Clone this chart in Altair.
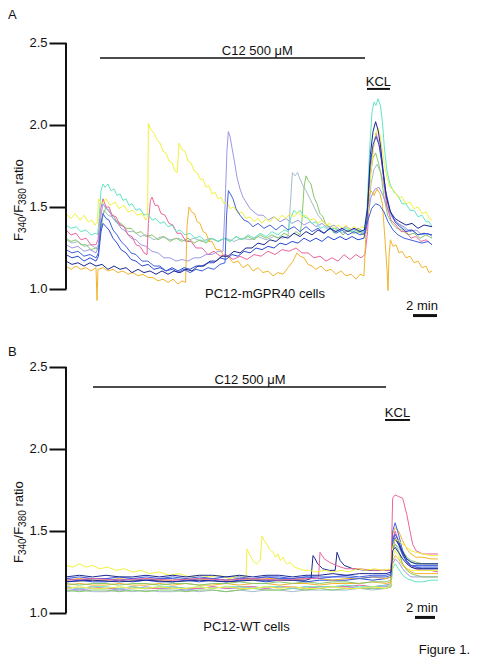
import altair as alt
import pandas as pd

FONT = "Liberation Sans"
INK = "#111111"

# ---------------- Panel A : PC12-mGPR40 cells (time in s, F340/F380 ratio) ----------------
A_YELLOW = [(0,1.46),(25,1.43),(45,1.46),(70,1.42),(90,1.45),(110,1.41),(130,1.42),(145,1.39),(158,1.41),(162,1.55),(180,1.52),(200,1.55),(220,1.51),(245,1.53),(265,1.49),(290,1.51),(310,1.47),(335,1.48),(355,1.45),(380,1.46),(400,1.42),(408,1.44),(412,2.01),(425,1.97),(440,1.95),(455,1.91),(470,1.89),(485,1.84),(500,1.83),(515,1.78),(530,1.77),(545,1.72),(556,1.71),(565,1.89),(580,1.85),(595,1.84),(610,1.78),(625,1.77),(640,1.72),(655,1.71),(670,1.67),(685,1.67),(700,1.62),(715,1.63),(730,1.58),(745,1.59),(760,1.55),(775,1.56),(790,1.52),(805,1.53),(820,1.49),(840,1.50),(860,1.46),(880,1.47),(900,1.43),(920,1.44),(940,1.41),(960,1.43),(980,1.40),(1000,1.43),(1020,1.41),(1040,1.44),(1060,1.42),(1080,1.45),(1100,1.43),(1120,1.46),(1140,1.44),(1160,1.47),(1180,1.44),(1200,1.45),(1220,1.42),(1240,1.43),(1260,1.40),(1280,1.42),(1300,1.39),(1320,1.40),(1340,1.37),(1360,1.39),(1380,1.37),(1400,1.39),(1420,1.36),(1440,1.38),(1460,1.36),(1480,1.38),(1495,1.37),(1510,1.46),(1525,1.72),(1540,1.88),(1550,1.95),(1560,1.98),(1570,1.94),(1580,1.86),(1592,1.76),(1605,1.68),(1620,1.62),(1640,1.60),(1660,1.56),(1680,1.56),(1700,1.52),(1720,1.53),(1740,1.49),(1760,1.50),(1780,1.46),(1800,1.47),(1815,1.43),(1830,1.42)]
A_TURQ = [(0,1.39),(25,1.37),(50,1.38),(75,1.35),(100,1.36),(125,1.33),(150,1.34),(158,1.33),(165,1.42),(175,1.60),(185,1.64),(195,1.62),(210,1.64),(225,1.60),(240,1.61),(255,1.57),(270,1.58),(285,1.54),(300,1.55),(315,1.51),(330,1.52),(350,1.48),(370,1.49),(390,1.45),(410,1.46),(430,1.42),(450,1.43),(470,1.40),(490,1.41),(510,1.38),(530,1.39),(550,1.35),(570,1.36),(595,1.33),(620,1.34),(645,1.31),(670,1.32),(700,1.29),(730,1.31),(760,1.29),(790,1.31),(820,1.29),(850,1.32),(880,1.30),(910,1.33),(940,1.31),(970,1.34),(1000,1.32),(1030,1.35),(1060,1.33),(1090,1.36),(1110,1.35),(1125,1.44),(1140,1.48),(1155,1.46),(1170,1.48),(1190,1.44),(1210,1.43),(1230,1.40),(1250,1.41),(1270,1.37),(1290,1.38),(1310,1.36),(1340,1.37),(1370,1.35),(1400,1.37),(1430,1.35),(1460,1.36),(1490,1.35),(1505,1.48),(1518,1.85),(1530,2.08),(1540,2.14),(1550,2.12),(1560,2.16),(1572,2.12),(1582,2.02),(1592,1.86),(1605,1.72),(1620,1.64),(1640,1.59),(1660,1.57),(1680,1.52),(1700,1.52),(1720,1.48),(1740,1.48),(1760,1.44),(1780,1.45),(1800,1.41),(1815,1.41),(1830,1.38)]
A_PINK = [(0,1.36),(25,1.33),(50,1.34),(75,1.30),(100,1.31),(125,1.27),(150,1.27),(160,1.30),(172,1.48),(185,1.55),(200,1.50),(215,1.50),(230,1.45),(250,1.44),(270,1.39),(290,1.38),(310,1.33),(330,1.32),(350,1.27),(370,1.26),(390,1.22),(405,1.21),(412,1.40),(422,1.54),(430,1.56),(445,1.51),(460,1.51),(475,1.46),(495,1.45),(515,1.40),(535,1.39),(555,1.34),(575,1.34),(600,1.29),(625,1.29),(650,1.25),(680,1.25),(710,1.21),(740,1.23),(770,1.20),(800,1.21),(835,1.18),(870,1.20),(905,1.18),(940,1.21),(975,1.20),(1010,1.23),(1045,1.21),(1080,1.24),(1115,1.23),(1150,1.25),(1180,1.22),(1210,1.22),(1240,1.19),(1270,1.20),(1300,1.17),(1330,1.19),(1360,1.17),(1390,1.21),(1420,1.18),(1450,1.21),(1475,1.19),(1495,1.21),(1508,1.35),(1522,1.70),(1535,1.85),(1550,1.95),(1562,1.90),(1575,1.82),(1590,1.64),(1605,1.50),(1625,1.42),(1650,1.39),(1675,1.35),(1700,1.35),(1725,1.31),(1750,1.32),(1775,1.29),(1800,1.30),(1830,1.27)]
A_GREEN = [(0,1.31),(25,1.29),(50,1.30),(75,1.27),(100,1.27),(125,1.24),(150,1.25),(160,1.24),(170,1.32),(185,1.45),(200,1.50),(215,1.47),(235,1.45),(255,1.41),(275,1.40),(300,1.37),(325,1.37),(350,1.34),(375,1.35),(400,1.32),(430,1.33),(460,1.30),(490,1.32),(520,1.29),(550,1.31),(580,1.29),(610,1.31),(640,1.28),(670,1.30),(700,1.28),(730,1.31),(760,1.29),(790,1.31),(820,1.29),(850,1.32),(880,1.30),(910,1.32),(940,1.30),(970,1.33),(1000,1.31),(1030,1.33),(1060,1.31),(1090,1.34),(1120,1.32),(1150,1.35),(1170,1.33),(1180,1.42),(1190,1.62),(1200,1.69),(1212,1.66),(1225,1.64),(1240,1.56),(1255,1.52),(1270,1.46),(1285,1.44),(1300,1.39),(1320,1.38),(1340,1.34),(1360,1.36),(1385,1.33),(1410,1.36),(1435,1.34),(1460,1.35),(1490,1.33),(1505,1.42),(1520,1.68),(1535,1.80),(1548,1.83),(1560,1.78),(1575,1.70),(1590,1.56),(1608,1.45),(1630,1.40),(1655,1.37),(1680,1.36),(1710,1.33),(1740,1.34),(1770,1.31),(1800,1.33),(1830,1.31)]
A_STEEL = [(0,1.30),(30,1.28),(60,1.29),(90,1.26),(120,1.27),(150,1.25),(162,1.27),(175,1.40),(190,1.48),(210,1.45),(230,1.44),(255,1.40),(280,1.39),(310,1.35),(340,1.35),(370,1.32),(400,1.33),(440,1.30),(480,1.32),(520,1.30),(560,1.31),(600,1.29),(640,1.31),(680,1.29),(720,1.31),(760,1.29),(800,1.31),(840,1.29),(880,1.31),(920,1.30),(960,1.32),(1000,1.30),(1040,1.32),(1080,1.31),(1110,1.32),(1122,1.52),(1132,1.71),(1145,1.69),(1158,1.71),(1170,1.67),(1185,1.63),(1200,1.60),(1220,1.55),(1240,1.50),(1260,1.45),(1280,1.42),(1300,1.39),(1325,1.37),(1350,1.37),(1380,1.34),(1410,1.36),(1440,1.34),(1470,1.35),(1495,1.34),(1510,1.44),(1525,1.64),(1540,1.73),(1555,1.76),(1570,1.72),(1585,1.66),(1600,1.56),(1620,1.46),(1645,1.41),(1670,1.39),(1700,1.36),(1730,1.36),(1760,1.33),(1790,1.34),(1830,1.33)]
A_LAV = [(0,1.27),(30,1.25),(60,1.26),(90,1.23),(120,1.24),(150,1.22),(162,1.26),(175,1.45),(185,1.52),(200,1.49),(215,1.48),(235,1.43),(255,1.41),(275,1.37),(300,1.35),(325,1.31),(350,1.30),(375,1.27),(400,1.26),(430,1.23),(460,1.22),(490,1.19),(520,1.19),(550,1.17),(580,1.18),(610,1.17),(640,1.19),(670,1.19),(700,1.21),(730,1.21),(760,1.23),(785,1.23),(795,1.50),(805,1.85),(812,1.96),(820,1.93),(830,1.86),(842,1.78),(855,1.68),(870,1.61),(885,1.56),(900,1.53),(920,1.49),(940,1.47),(960,1.45),(985,1.45),(1010,1.42),(1040,1.44),(1070,1.41),(1100,1.43),(1130,1.40),(1160,1.42),(1190,1.39),(1220,1.41),(1250,1.38),(1280,1.40),(1310,1.37),(1340,1.39),(1370,1.36),(1400,1.38),(1430,1.36),(1460,1.37),(1492,1.35),(1508,1.44),(1525,1.56),(1545,1.61),(1565,1.62),(1585,1.57),(1605,1.50),(1630,1.44),(1660,1.40),(1690,1.38),(1720,1.35),(1750,1.36),(1780,1.33),(1810,1.34),(1830,1.32)]
A_BLUE = [(0,1.24),(30,1.22),(60,1.23),(90,1.20),(120,1.21),(150,1.19),(162,1.22),(175,1.40),(185,1.46),(200,1.43),(215,1.42),(235,1.36),(255,1.33),(275,1.29),(300,1.26),(325,1.22),(350,1.21),(380,1.17),(410,1.17),(440,1.14),(470,1.14),(500,1.11),(530,1.12),(560,1.10),(590,1.12),(620,1.10),(650,1.12),(680,1.11),(710,1.13),(740,1.12),(770,1.15),(795,1.16),(803,1.45),(812,1.60),(822,1.58),(835,1.55),(850,1.49),(870,1.45),(890,1.42),(910,1.41),(935,1.38),(960,1.40),(990,1.37),(1020,1.39),(1050,1.36),(1080,1.39),(1110,1.36),(1140,1.38),(1170,1.35),(1200,1.38),(1230,1.35),(1260,1.37),(1290,1.34),(1320,1.37),(1350,1.34),(1380,1.36),(1410,1.33),(1440,1.35),(1470,1.33),(1495,1.34),(1510,1.42),(1528,1.49),(1548,1.52),(1568,1.51),(1590,1.47),(1610,1.41),(1635,1.36),(1660,1.33),(1690,1.31),(1720,1.30),(1750,1.29),(1780,1.28),(1810,1.29),(1830,1.27)]
A_ROYAL = [(0,1.21),(30,1.19),(60,1.20),(90,1.17),(120,1.19),(150,1.17),(162,1.20),(175,1.35),(185,1.40),(200,1.38),(215,1.36),(235,1.31),(255,1.28),(275,1.24),(300,1.22),(325,1.18),(350,1.17),(380,1.14),(410,1.15),(440,1.12),(470,1.13),(500,1.11),(530,1.13),(560,1.11),(590,1.13),(620,1.12),(650,1.14),(680,1.14),(710,1.16),(740,1.16),(770,1.19),(800,1.18),(830,1.21),(860,1.20),(890,1.23),(920,1.22),(950,1.25),(980,1.24),(1010,1.26),(1040,1.25),(1070,1.28),(1100,1.27),(1130,1.29),(1160,1.28),(1190,1.31),(1220,1.29),(1250,1.31),(1280,1.29),(1310,1.32),(1340,1.30),(1370,1.32),(1400,1.30),(1430,1.32),(1460,1.30),(1490,1.31),(1505,1.42),(1520,1.75),(1535,1.88),(1550,1.93),(1565,1.88),(1580,1.76),(1598,1.60),(1620,1.48),(1645,1.41),(1670,1.38),(1700,1.35),(1730,1.36),(1760,1.33),(1790,1.34),(1830,1.33)]
A_NAVY = [(0,1.17),(30,1.15),(60,1.16),(90,1.14),(120,1.16),(150,1.14),(180,1.15),(210,1.12),(240,1.14),(270,1.12),(300,1.13),(330,1.10),(360,1.12),(390,1.10),(420,1.11),(450,1.09),(480,1.11),(510,1.09),(540,1.11),(570,1.10),(600,1.12),(630,1.11),(660,1.14),(690,1.14),(720,1.17),(750,1.17),(780,1.20),(810,1.20),(840,1.23),(870,1.22),(900,1.25),(930,1.25),(960,1.28),(990,1.27),(1020,1.30),(1050,1.29),(1080,1.32),(1110,1.31),(1140,1.34),(1170,1.32),(1200,1.35),(1230,1.33),(1260,1.36),(1290,1.34),(1320,1.37),(1350,1.35),(1380,1.37),(1410,1.35),(1440,1.37),(1470,1.35),(1492,1.36),(1508,1.50),(1522,1.82),(1535,1.96),(1548,2.02),(1560,1.97),(1572,1.88),(1586,1.72),(1602,1.56),(1622,1.47),(1645,1.43),(1670,1.41),(1700,1.39),(1730,1.40),(1760,1.37),(1790,1.39),(1830,1.38)]
A_ORANGE = [(0,1.14),(25,1.12),(50,1.14),(75,1.12),(100,1.13),(125,1.11),(150,1.13),(155,0.93),(160,1.12),(185,1.13),(210,1.11),(235,1.12),(260,1.10),(285,1.11),(310,1.09),(335,1.10),(360,1.08),(385,1.09),(410,1.07),(435,1.07),(460,1.05),(485,1.06),(510,1.04),(535,1.06),(560,1.03),(580,1.05),(598,1.04),(605,1.38),(615,1.50),(628,1.47),(642,1.46),(656,1.41),(670,1.40),(685,1.35),(700,1.34),(715,1.29),(730,1.29),(750,1.24),(770,1.24),(790,1.20),(810,1.20),(835,1.16),(860,1.17),(885,1.13),(910,1.15),(935,1.11),(960,1.13),(985,1.10),(1010,1.11),(1035,1.08),(1060,1.10),(1085,1.09),(1110,1.13),(1135,1.17),(1155,1.22),(1170,1.20),(1190,1.19),(1210,1.15),(1230,1.14),(1250,1.12),(1275,1.14),(1300,1.11),(1325,1.12),(1350,1.09),(1375,1.11),(1400,1.08),(1425,1.09),(1450,1.06),(1470,1.09),(1490,1.08),(1498,1.30),(1510,1.55),(1525,1.60),(1540,1.57),(1555,1.61),(1570,1.58),(1582,1.52),(1595,1.30),(1606,1.10),(1610,0.99),(1615,1.20),(1622,1.30),(1635,1.26),(1650,1.27),(1665,1.22),(1680,1.23),(1700,1.19),(1720,1.20),(1740,1.16),(1760,1.17),(1780,1.13),(1800,1.14),(1815,1.10),(1830,1.11)]

A_NAMES = ["steel", "green", "lavender", "pink", "turquoise", "yellow", "orange", "royal", "blue", "navy"]
A_COLORS = ["#a6bccb", "#88c86a", "#9c98e4", "#e8659e", "#62e6c6", "#f2f23c", "#f2b42c", "#2a4ad4", "#4062e0", "#1c2890"]
A_SERIES = [A_STEEL, A_GREEN, A_LAV, A_PINK, A_TURQ, A_YELLOW, A_ORANGE, A_ROYAL, A_BLUE, A_NAVY]

A_TEXTS = [("C12 500 μM", 957, 2.427), ("KCL", 1562, 2.238), ("PC12-mGPR40 cells", 995, 0.945), ("2 min", 1780, 0.872)]
A_HRULES = [(170, 1495, 2.409, 1.5), (1505, 1620, 2.220, 2.0), (1735, 1855, 0.838, 3.0)]

# ---------------- Panel B : PC12-WT cells ----------------
B_T = [0, 80, 160, 240, 320, 400, 480, 560, 640, 720, 800, 880, 960, 1040, 1120, 1200, 1280, 1360, 1440, 1520, 1600, 1680, 1760, 1840, 1920]
B_T_KCL = [1950, 1960, 1975, 1995, 2020, 2045, 2070, 2100, 2140, 2190, 2232]

B_GRID = {
    "ltpink":   ([1.13,1.14,1.13,1.13,1.14,1.13,1.14,1.13,1.13,1.14,1.13,1.14,1.13,1.14,1.13,1.14,1.14,1.13,1.14,1.14,1.14,1.14,1.15,1.14,1.15],
                 [1.16,1.38,1.42,1.40,1.36,1.33,1.31,1.30,1.30,1.30,1.30]),
    "ltcyan":   ([1.14,1.13,1.14,1.14,1.13,1.14,1.13,1.14,1.14,1.13,1.14,1.14,1.13,1.14,1.15,1.14,1.14,1.15,1.14,1.15,1.14,1.15,1.15,1.15,1.15],
                 [1.16,1.40,1.45,1.43,1.38,1.34,1.32,1.31,1.30,1.30,1.30]),
    "paleyel":  ([1.15,1.14,1.15,1.15,1.14,1.15,1.16,1.15,1.15,1.14,1.15,1.16,1.15,1.15,1.16,1.15,1.16,1.15,1.16,1.15,1.16,1.16,1.15,1.16,1.16],
                 [1.17,1.30,1.33,1.31,1.27,1.24,1.22,1.22,1.22,1.22,1.22]),
    "cyan":     ([1.16,1.15,1.16,1.15,1.15,1.16,1.15,1.15,1.16,1.15,1.15,1.16,1.15,1.16,1.16,1.15,1.16,1.16,1.15,1.16,1.16,1.16,1.17,1.16,1.17],
                 [1.18,1.45,1.50,1.44,1.36,1.31,1.28,1.27,1.26,1.26,1.25]),
    "ygreen":   ([1.16,1.15,1.16,1.16,1.15,1.16,1.15,1.16,1.16,1.15,1.16,1.15,1.16,1.16,1.15,1.16,1.16,1.15,1.16,1.16,1.16,1.17,1.16,1.16,1.17],
                 [1.17,1.27,1.30,1.27,1.23,1.21,1.20,1.19,1.19,1.20,1.20]),
    "dkred":    ([1.15,1.16,1.15,1.15,1.16,1.15,1.15,1.16,1.15,1.15,1.16,1.15,1.16,1.15,1.15,1.16,1.15,1.16,1.15,1.15,1.16,1.15,1.15,1.16,1.15],
                 [1.17,1.34,1.38,1.35,1.30,1.27,1.26,1.26,1.26,1.26,1.26]),
    "lav":      ([1.17,1.18,1.17,1.17,1.18,1.17,1.17,1.18,1.17,1.18,1.17,1.17,1.18,1.17,1.18,1.18,1.17,1.18,1.18,1.17,1.18,1.18,1.18,1.19,1.18],
                 [1.19,1.48,1.52,1.50,1.44,1.39,1.36,1.34,1.34,1.33,1.33]),
    "green":    ([1.18,1.17,1.18,1.18,1.17,1.18,1.18,1.17,1.18,1.18,1.17,1.18,1.18,1.19,1.18,1.18,1.19,1.18,1.19,1.18,1.19,1.19,1.18,1.19,1.19],
                 [1.20,1.38,1.42,1.38,1.30,1.26,1.24,1.23,1.22,1.22,1.22]),
    "teal":     ([1.19,1.20,1.19,1.19,1.20,1.19,1.20,1.19,1.19,1.20,1.19,1.20,1.19,1.20,1.20,1.19,1.20,1.20,1.19,1.20,1.20,1.20,1.21,1.20,1.21],
                 [1.22,1.44,1.48,1.44,1.36,1.31,1.29,1.28,1.28,1.28,1.28]),
    "orange":   ([1.20,1.21,1.20,1.20,1.21,1.20,1.21,1.20,1.20,1.21,1.20,1.21,1.20,1.21,1.20,1.21,1.21,1.20,1.21,1.21,1.20,1.21,1.21,1.22,1.21],
                 [1.22,1.32,1.35,1.33,1.29,1.27,1.25,1.24,1.24,1.24,1.24]),
    "blue":     ([1.21,1.20,1.21,1.21,1.20,1.21,1.20,1.21,1.21,1.20,1.21,1.21,1.20,1.21,1.21,1.22,1.21,1.21,1.22,1.21,1.22,1.22,1.21,1.22,1.22],
                 [1.23,1.50,1.55,1.48,1.38,1.32,1.29,1.28,1.27,1.27,1.27]),
    "seagreen": ([1.21,1.22,1.21,1.21,1.22,1.21,1.22,1.21,1.22,1.21,1.22,1.21,1.22,1.22,1.21,1.22,1.22,1.21,1.22,1.22,1.22,1.23,1.22,1.23,1.23],
                 [1.24,1.43,1.46,1.42,1.35,1.31,1.29,1.29,1.29,1.29,1.29]),
    "navy":     ([1.22,1.23,1.22,1.23,1.22,1.22,1.23,1.22,1.23,1.22,1.23,1.23,1.22,1.23,1.22,1.23,1.23,1.22,1.23,1.23,1.24,1.23,1.24,1.24,1.24],
                 [1.25,1.38,1.40,1.37,1.33,1.30,1.28,1.27,1.27,1.27,1.27]),
}
B_YELLOW = [(0,1.29),(40,1.28),(80,1.30),(120,1.28),(160,1.29),(200,1.27),(250,1.28),(300,1.26),(350,1.27),(400,1.25),(450,1.26),(500,1.24),(560,1.25),(620,1.23),(680,1.24),(740,1.22),(800,1.23),(860,1.22),(920,1.23),(980,1.21),(1040,1.23),(1080,1.22),(1086,1.39),(1100,1.36),(1115,1.33),(1128,1.31),(1145,1.30),(1165,1.32),(1176,1.47),(1190,1.44),(1205,1.42),(1220,1.39),(1242,1.37),(1258,1.34),(1272,1.36),(1286,1.32),(1302,1.34),(1316,1.31),(1330,1.30),(1344,1.31),(1370,1.28),(1400,1.27),(1430,1.26),(1460,1.26),(1500,1.25),(1550,1.26),(1600,1.25),(1650,1.26),(1700,1.25),(1750,1.27),(1800,1.26),(1850,1.27),(1900,1.26),(1950,1.27),(1960,1.40),(1975,1.45),(1995,1.44),(2020,1.42),(2045,1.40),(2070,1.38),(2100,1.37),(2140,1.36),(2190,1.35),(2232,1.35)]
B_PINK = [(0,1.20),(160,1.21),(320,1.20),(480,1.21),(640,1.20),(800,1.21),(960,1.20),(1120,1.21),(1280,1.20),(1440,1.21),(1515,1.21),(1524,1.37),(1550,1.33),(1580,1.31),(1620,1.29),(1680,1.27),(1760,1.27),(1840,1.26),(1920,1.26),(1950,1.26),(1960,1.70),(1975,1.72),(1995,1.71),(2020,1.70),(2045,1.60),(2064,1.50),(2080,1.42),(2100,1.38),(2140,1.36),(2190,1.36),(2232,1.36)]
B_GREY = [(0,1.19),(160,1.20),(320,1.19),(480,1.20),(640,1.19),(800,1.20),(960,1.19),(1120,1.20),(1280,1.20),(1440,1.20),(1470,1.21),(1482,1.35),(1495,1.33),(1510,1.30),(1540,1.27),(1580,1.26),(1615,1.26),(1626,1.37),(1645,1.32),(1670,1.29),(1720,1.27),(1800,1.26),(1900,1.26),(1950,1.26),(1960,1.40),(1975,1.45),(1995,1.42),(2020,1.37),(2045,1.33),(2070,1.31),(2100,1.30),(2140,1.30),(2190,1.30),(2232,1.30)]

B_NAMES = ["ltpink", "ltcyan", "paleyel", "cyan", "ygreen", "dkred", "lav", "green", "teal", "orange", "blue", "seagreen", "grey", "pink", "yellow", "navy"]
B_COLORS = ["#f2a6c6", "#9fe4f2", "#ecec8c", "#33b9e8", "#c4e04a", "#a33a2e", "#a496e4", "#6cbf4c", "#22a090", "#f0a22c", "#3658d8", "#62d0a0", "#8e8e8e", "#e870b8", "#f0e43c", "#1b2a7a"]

B_TEXTS = [("C12 500 μM", 1104, 2.396), ("KCL", 1989, 2.195), ("PC12-WT cells", 1083, 0.890), ("2 min", 2136, 1.006)]
B_HRULES = [(162, 1920, 2.378, 1.5), (1914, 2064, 2.177, 2.0), (2094, 2214, 0.973, 3.0)]
B_FIGURE = ("Figure 1.", 2424, 0.750)

Y_TICKS = [1.0, 1.5, 2.0, 2.5]

# y-axis title pieces: text, font size, x offset, y offset (layout, px within panel)
TITLE_PIECES = [("F", 13, -43, 233), ("340", 10, -40, 225.1), ("/F", 13, -43, 208.4), ("380", 10, -40, 196.9), ("ratio", 13, -43, 176.6)]

Y_AXIS = alt.Axis(values=Y_TICKS, format=".1f", tickSize=17, tickWidth=2, tickColor=INK,
                  labelFontSize=13, labelFont=FONT, labelColor=INK, labelPadding=2,
                  domain=False, grid=False, title=None)


def traces_df(names, series):
    rows = []
    for name, pairs in zip(names, series):
        for t, v in pairs:
            rows.append({"trace": name, "t": t, "v": v})
    return pd.DataFrame(rows)


def panel(df, names, colors, xmax, ydom, height, texts, hrules, letter, letter_y, figure=None):
    xs = alt.Scale(domain=[0, xmax], nice=False, zero=False)
    ys = alt.Scale(domain=ydom, nice=False, zero=False)
    X = alt.X("t:Q", scale=xs, axis=None)
    Y = alt.Y("v:Q", scale=ys, axis=Y_AXIS)
    lines = alt.Chart(df).mark_line(strokeWidth=1, strokeJoin="round").encode(
        x=X, y=Y,
        color=alt.Color("trace:N", scale=alt.Scale(domain=names, range=colors), legend=None),
    )
    axis_rule = alt.Chart(pd.DataFrame({"v": [Y_TICKS[0]], "v2": [Y_TICKS[-1]]})).mark_rule(
        strokeWidth=2, color=INK).encode(x=alt.value(0), y=Y, y2="v2:Q")
    hr_df = pd.DataFrame(hrules, columns=["t", "t2", "v", "w"])
    hr = alt.Chart(hr_df).mark_rule(color=INK).encode(
        x=X, x2="t2:Q", y=Y, strokeWidth=alt.StrokeWidth("w:Q", scale=None))
    tx_df = pd.DataFrame(texts, columns=["label", "t", "v"])
    tx = alt.Chart(tx_df).mark_text(font=FONT, fontSize=13, color=INK, align="center",
                                    baseline="alphabetic").encode(x=X, y=Y, text="label:N")
    layers = [lines, axis_rule, hr, tx]
    one = pd.DataFrame({"k": [0]})
    layers.append(alt.Chart(one).mark_text(text=letter, font=FONT, fontSize=13, color=INK, align="left",
                                           baseline="alphabetic").encode(x=alt.value(-58), y=alt.value(letter_y)))
    for s, fs, xo, yo in TITLE_PIECES:
        layers.append(alt.Chart(one).mark_text(text=s, font=FONT, fontSize=fs, color=INK, angle=270,
                                               align="left", baseline="alphabetic").encode(
            x=alt.value(xo), y=alt.value(yo)))
    if figure is not None:
        fdf = pd.DataFrame([figure], columns=["label", "t", "v"])
        layers.append(alt.Chart(fdf).mark_text(font=FONT, fontSize=13, color=INK, align="right",
                                               baseline="alphabetic").encode(x=X, y=Y, text="label:N"))
    return alt.layer(*layers).properties(width=404, height=height)


dfA = traces_df(A_NAMES, A_SERIES)
b_series = []
for n in B_NAMES:
    if n in B_GRID:
        base, kcl = B_GRID[n]
        b_series.append(list(zip(B_T + B_T_KCL, base + kcl)))
    elif n == "yellow":
        b_series.append(B_YELLOW)
    elif n == "pink":
        b_series.append(B_PINK)
    else:
        b_series.append(B_GREY)
dfB = traces_df(B_NAMES, b_series)

pA = panel(dfA, A_NAMES, A_COLORS, 2020, [0.75, 2.7134], 322, A_TEXTS, A_HRULES, "A", 11)
pB = panel(dfB, B_NAMES, B_COLORS, 2424, [0.7439, 2.7256], 325, B_TEXTS, B_HRULES, "B", 26, B_FIGURE)

chart = alt.vconcat(pA, pB, spacing=0, padding=0).configure(
    font=FONT, view=alt.ViewConfig(stroke=None))
chart.save("out.html", embed_options={"renderer": "svg", "actions": False})
